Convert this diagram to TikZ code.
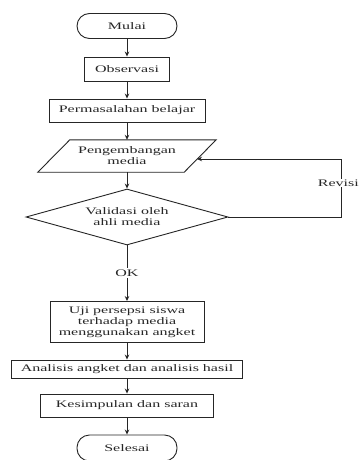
\documentclass[tikz,border=0pt]{standalone}
\usepackage{fontspec}
\setmainfont{Liberation Serif}[FakeStretch=1.6]
\usetikzlibrary{shapes.geometric,arrows.meta}
\begin{document}
\begin{tikzpicture}[x=1pt,y=-1pt,
  every node/.style={font=\fontsize{10}{11}\selectfont, inner sep=0pt, align=center, text=black!85},
  boxnode/.style={draw=black!85, line width=0.9pt, fill=white},
  termnode/.style={draw=black!85, line width=0.9pt, rounded corners=12.5pt, fill=white},
  lineish/.style={draw=black!85, line width=0.9pt},
  arr/.style={draw=black!85, line width=0.9pt, -{Stealth[length=5pt,width=4.5pt]}}
]
\useasboundingbox (0,0) rectangle (360,460);
\fill[white] (0,0) rectangle (360,460);

\node[termnode, minimum width=100pt, minimum height=25pt] (mulai) at (127,26) {Mulai};
\node[boxnode, minimum width=85pt, minimum height=24pt] (obs) at (127,69) {Observasi};
\node[boxnode, minimum width=156pt, minimum height=23pt] (perm) at (127,110.5) {Permasalahan belajar};
\node[minimum width=146pt, minimum height=32pt] (peng) at (127,156) {Pengembangan\\media};
\draw[lineish] ([xshift=16pt]peng.north west) -- ([xshift=16pt]peng.north east)
  -- ([xshift=-16pt]peng.south east) -- ([xshift=-16pt]peng.south west) -- cycle;
\node[diamond, draw=black!85, line width=0.9pt, aspect=3.6, minimum width=202pt, minimum height=56pt] (val) at (127,217) {Validasi oleh\\ahli media};
\node[boxnode, minimum width=154pt, minimum height=41pt] (uji) at (127,322) {Uji persepsi siswa\\terhadap media\\menggunakan angket};
\node[boxnode, minimum width=231pt, minimum height=18pt] (ana) at (127,369) {Analisis angket dan analisis hasil};
\node[boxnode, minimum width=173pt, minimum height=23pt] (kes) at (127,405.5) {Kesimpulan dan saran};
\node[termnode, minimum width=100pt, minimum height=26pt] (sel) at (127,448) {Selesai};

\draw[arr] (mulai) -- (obs);
\draw[arr] (obs) -- (perm);
\draw[arr] (perm) -- (peng.north);
\draw[arr] (peng.south) -- (val);
\draw[arr] (val) -- node[fill=white, inner sep=1.5pt] (ok) {OK} (uji);
\draw[arr] (uji) -- (ana);
\draw[arr] (ana) -- (kes);
\draw[arr] (kes) -- (sel);

\coordinate (rc) at (341,159);
\coordinate (pin) at (197,159);
\draw[arr] (val.east) -| (rc) -- (pin);
\node[fill=white, inner sep=0.5pt, anchor=east] (rev) at (359.5,183) {Revisi};
\end{tikzpicture}
\end{document}
